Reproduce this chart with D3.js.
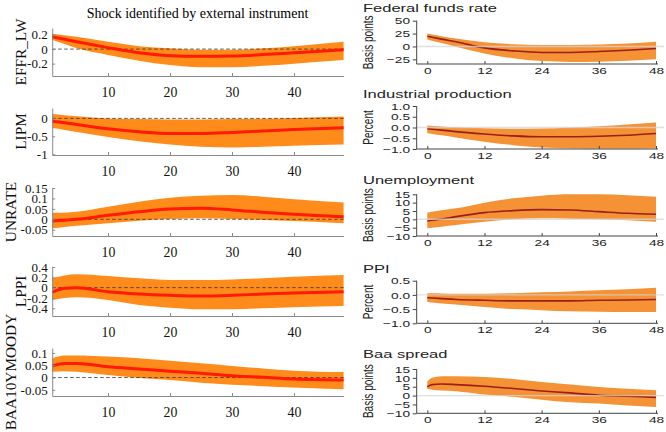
<!DOCTYPE html>
<html><head><meta charset="utf-8">
<script src="https://cdn.jsdelivr.net/npm/d3@7"></script>
<style>body{margin:0;background:#fff}svg{display:block}</style>
</head><body>
<svg id="c" width="666" height="432"></svg>
<script>
// ---------- data: left column (horizons 1..48) ----------
const leftTitle = "Shock identified by external instrument";
const leftNames = ["EFFR_LW","LIPM","UNRATE","LPPI","BAA10YMOODY"];
const hL = [1,3,5,10,15,20,25,30,35,40,48];
const effrMid = [0.17,0.135,0.10,0.02,-0.05,-0.09,-0.10,-0.095,-0.075,-0.05,-0.01];
const effrUp  = [0.21,0.19,0.17,0.10,0.04,0.01,-0.01,-0.01,0.01,0.04,0.10];
const effrLo  = [0.13,0.07,0.01,-0.08,-0.16,-0.22,-0.25,-0.25,-0.23,-0.20,-0.15];
const lipmMid = [-0.08,-0.12,-0.17,-0.29,-0.37,-0.42,-0.42,-0.39,-0.35,-0.31,-0.26];
const lipmUp  = [0.12,0.09,0.06,0.0,-0.02,-0.03,-0.03,-0.02,-0.01,0.01,0.05];
const lipmLo  = [-0.27,-0.32,-0.38,-0.52,-0.64,-0.73,-0.79,-0.81,-0.79,-0.76,-0.73];
const unrateMid = [-0.008,-0.004,0.0,0.019,0.036,0.049,0.053,0.045,0.034,0.024,0.012];
const unrateUp  = [0.032,0.032,0.036,0.060,0.084,0.103,0.113,0.116,0.108,0.096,0.080];
const unrateLo  = [-0.043,-0.037,-0.031,-0.019,-0.007,0.001,0.005,0.001,-0.003,-0.008,-0.019];
const lppiMid = [-0.09,-0.014,0.0,-0.08,-0.124,-0.149,-0.163,-0.149,-0.124,-0.105,-0.08];
const lppiUp  = [0.18,0.235,0.258,0.225,0.18,0.147,0.147,0.16,0.18,0.21,0.244];
const lppiLo  = [-0.24,-0.20,-0.188,-0.24,-0.337,-0.39,-0.42,-0.42,-0.40,-0.38,-0.357];
const baaMid = [0.047,0.057,0.057,0.044,0.035,0.026,0.017,0.007,0.001,-0.006,-0.01];
const baaUp  = [0.078,0.09,0.09,0.085,0.078,0.068,0.058,0.047,0.037,0.028,0.022];
const baaLo  = [0.024,0.026,0.024,0.01,-0.002,-0.01,-0.021,-0.029,-0.035,-0.04,-0.048];
const leftXTicks = [10,20,30,40];
const leftTickVals = [[-0.2,0,0.2],[-1,-0.5,0],[-0.05,0,0.05,0.1,0.15],[-0.4,-0.2,0,0.2,0.4],[-0.05,0,0.05,0.1]];
const leftTickLabels = [["-0.2","0","0.2"],["-1","-0.5","0"],["-0.05","0","0.05","0.1","0.15"],["-0.4","-0.2","0","0.2","0.4"],["-0.05","0","0.05","0.1"]];

// ---------- data: right column (horizons 0..48) ----------
const rightTitles = ["Federal funds rate","Industrial production","Unemployment","PPI","Baa spread"];
const rightUnits = ["Basis points","Percent","Basis points","Percent","Basis points"];
const hR = [0,1,3,6,12,18,24,30,36,42,48];
const ffrMid = [20,18,14.2,9,-2.7,-8.5,-11.6,-11.6,-9.7,-7.2,-3.9];
const ffrUp  = [25,23.2,20,15.5,8.3,4.4,3,3,3.7,5.8,9];
const ffrLo  = [13.5,11,6.5,-0.7,-13.5,-23,-28.4,-30,-29.5,-27.8,-25];
const ipMid = [-0.06,-0.08,-0.12,-0.19,-0.30,-0.39,-0.43,-0.43,-0.41,-0.36,-0.28];
const ipUp  = [0.09,0.075,0.05,0.01,-0.03,-0.06,-0.05,0.0,0.06,0.14,0.23];
const ipLo  = [-0.27,-0.30,-0.36,-0.46,-0.66,-0.82,-0.93,-0.97,-0.98,-0.98,-0.97];
const urMid = [-1,-0.6,0.2,1.6,4,5.2,5.8,5.6,4.6,3.6,3];
const urUp  = [4,4.5,5.4,6.6,10,12.6,14.2,15,15,14.4,13.6];
const urLo  = [-5.4,-5.1,-4.4,-3.4,-1.4,0,0.6,0.4,0,-0.6,-1.4];
const ppiMid = [-0.10,-0.11,-0.13,-0.16,-0.19,-0.21,-0.21,-0.21,-0.19,-0.18,-0.16];
const ppiUp  = [0.06,0.055,0.05,0.04,0.04,0.06,0.09,0.12,0.16,0.20,0.25];
const ppiLo  = [-0.25,-0.265,-0.30,-0.34,-0.43,-0.50,-0.54,-0.58,-0.59,-0.60,-0.60];
const spMid = [4.9,6.2,6.5,6.2,5.3,4,2.6,1.5,0.2,-0.4,-1];
const spUp  = [8,10,10.9,10.9,10.5,9.4,7.7,6.2,4.9,3.8,3];
const spLo  = [3.8,3.3,2.8,2.4,0.6,-0.7,-2.3,-3.8,-4.5,-5.6,-6.4];
const rightXTicks = [0,12,24,36,48];
const rightTickVals = [[-25,0,25,50],[-1,-0.5,0,0.5,1],[-10,-5,0,5,10,15],[-1,-0.5,0,0.5],[-10,-5,0,5,10,15]];
const rightTickLabels = [["\u221225","0","25","50"],["\u22121.0","\u22120.5","0.0","0.5","1.0"],["\u221210","\u22125","0","5","10","15"],["\u22121.0","\u22120.5","0.0","0.5"],["\u221210","\u22125","0","5","10","15"]];

const leftSeries = [[effrMid,effrUp,effrLo],[lipmMid,lipmUp,lipmLo],[unrateMid,unrateUp,unrateLo],[lppiMid,lppiUp,lppiLo],[baaMid,baaUp,baaLo]];
const rightSeries = [[ffrMid,ffrUp,ffrLo],[ipMid,ipUp,ipLo],[urMid,urUp,urLo],[ppiMid,ppiUp,ppiLo],[spMid,spUp,spLo]];

// ---------- layout ----------
const L = {
  top:[28,108,188,267,348], bot:[76,155,236,316,396],
  dom:[[-0.37,0.29],[-1.02,0.29],[-0.08,0.15],[-0.55,0.4],[-0.075,0.12]],
  labX:[25.5,25.5,16,25.5,16]
};
const R = {
  top:[20.7,106,194.3,280.7,369], bot:[64,149,236,323.3,413.3],
  dom:[[-34,50],[-1,1],[-10,15],[-1,0.5],[-10,15]],
  title:[11.8,98.2,184.4,272.5,358.2]
};
const SX = 1.4; // horizontal stretch of right-column text
const serif = "'Liberation Serif','Times New Roman',serif";
const sans = "'Liberation Sans',Arial,Helvetica,sans-serif";

const svg = d3.select("#c");
const xL = d3.scaleLinear().domain([1,48]).range([52.2,343.6]);
const xR = d3.scaleLinear().domain([0,48]).range([427.3,656]);

// ---------- left column ----------
svg.append("text").attr("x",197.5).attr("y",18.2).attr("text-anchor","middle")
  .attr("font-family",serif).attr("font-size",14).text(leftTitle);

leftSeries.forEach((s,i)=>{
  const [mid,up,lo] = s;
  const y = d3.scaleLinear().domain(L.dom[i]).range([L.bot[i],L.top[i]]);
  const g = svg.append("g");
  const area = d3.area().x((d,j)=>xL(hL[j])).y0((d,j)=>y(lo[j])).y1((d,j)=>y(up[j])).curve(d3.curveMonotoneX);
  g.append("path").datum(mid).attr("d",area).attr("fill","#ff8c1a");
  g.append("line").attr("x1",xL(1)).attr("x2",xL(48)).attr("y1",y(0)).attr("y2",y(0))
    .attr("stroke","#333").attr("stroke-width",0.8).attr("stroke-dasharray","3.5,2.5");
  const line = d3.line().x((d,j)=>xL(hL[j])).y(d=>y(d)).curve(d3.curveMonotoneX);
  g.append("path").datum(mid).attr("d",line).attr("fill","none").attr("stroke","#ff1a00").attr("stroke-width",3);

  const ya = d3.axisLeft(y).tickValues(leftTickVals[i]).tickFormat((d,k)=>leftTickLabels[i][k])
    .tickSizeInner(-3).tickSizeOuter(0).tickPadding(4.5);
  const yg = g.append("g").attr("transform",`translate(${xL(1)},0)`).call(ya);
  const xa = d3.axisBottom(xL).tickValues(leftXTicks).tickSizeInner(-3).tickSizeOuter(0).tickPadding(11);
  const xg = g.append("g").attr("transform",`translate(0,${L.bot[i]})`).call(xa);
  [yg,xg].forEach(a=>{
    a.selectAll("path,line").attr("stroke","#8a8a8a");
    a.selectAll("text").attr("font-family",serif).attr("fill","#111");
  });
  yg.selectAll("text").attr("font-size",13);
  xg.selectAll("text").attr("font-size",13.8);

  svg.append("text").attr("transform",`translate(${L.labX[i]},${(L.top[i]+L.bot[i])/2}) rotate(-90)`)
    .attr("text-anchor","middle").attr("font-family",serif).attr("font-size",15.3).attr("fill","#111")
    .text(leftNames[i]);
});

// ---------- right column ----------
const axX = 416.7;
rightSeries.forEach((s,i)=>{
  const [mid,up,lo] = s;
  const y = d3.scaleLinear().domain(R.dom[i]).range([R.bot[i],R.top[i]]);
  const g = svg.append("g");
  const area = d3.area().x((d,j)=>xR(hR[j])).y0((d,j)=>y(lo[j])).y1((d,j)=>y(up[j])).curve(d3.curveMonotoneX);
  g.append("path").datum(mid).attr("d",area).attr("fill","#f59235");
  const line = d3.line().x((d,j)=>xR(hR[j])).y(d=>y(d)).curve(d3.curveMonotoneX);
  g.append("path").datum(mid).attr("d",line).attr("fill","none").attr("stroke","#9a1e1a").attr("stroke-width",1.6);
  g.append("line").attr("x1",axX).attr("x2",664).attr("y1",y(0)).attr("y2",y(0))
    .attr("stroke","#d4d4d4").attr("stroke-opacity",0.75).attr("stroke-width",1.4);

  const tv = rightTickVals[i];
  const ya = d3.axisLeft(y).tickValues(tv).tickFormat((d,k)=>rightTickLabels[i][k])
    .tickSizeInner(4).tickSizeOuter(0).tickPadding(2.5);
  const yg = g.append("g").attr("transform",`translate(${axX},0)`).call(ya);
  yg.select(".domain").remove();
  g.append("line").attr("x1",axX).attr("x2",axX).attr("y1",y(d3.max(tv))).attr("y2",R.bot[i])
    .attr("stroke","#444").attr("stroke-width",1);
  yg.selectAll("text").attr("x",-6.7/SX).attr("transform",`scale(${SX},1)`);

  const xa = d3.axisBottom(xR).tickValues(rightXTicks).tickSizeInner(-3).tickSizeOuter(0).tickPadding(3);
  const xg = g.append("g").attr("transform",`translate(0,${R.bot[i]})`).call(xa);
  xg.select(".domain").remove();
  g.append("line").attr("x1",axX).attr("x2",658).attr("y1",R.bot[i]).attr("y2",R.bot[i])
    .attr("stroke","#444").attr("stroke-width",1);
  xg.selectAll("text").attr("transform",`scale(${SX},1)`);
  [yg,xg].forEach(a=>{
    a.selectAll("line").attr("stroke","#444");
    a.selectAll("text").attr("font-family",sans).attr("font-size",9.8).attr("fill","#222");
  });

  svg.append("text").attr("transform",`translate(363,${R.title[i]}) scale(${SX},1)`)
    .attr("font-family",sans).attr("font-size",11.8).attr("fill","#222").text(rightTitles[i]);
  svg.append("text").attr("transform",`translate(373,${(y(d3.max(tv))+R.bot[i])/2}) scale(${SX},1) rotate(-90)`)
    .attr("text-anchor","middle").attr("font-family",sans).attr("font-size",10).attr("fill","#222")
    .text(rightUnits[i]);
});
</script>
</body></html>
